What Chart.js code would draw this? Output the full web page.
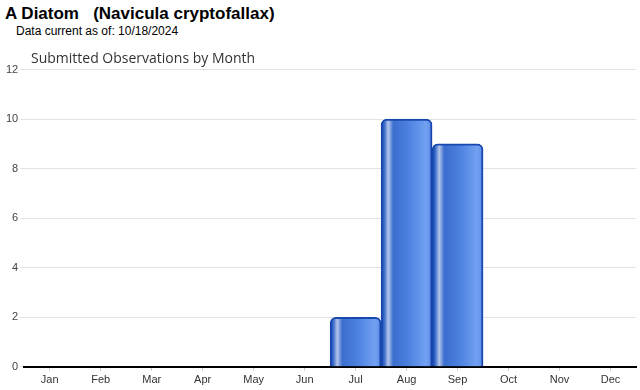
<!DOCTYPE html>
<html>
<head>
<meta charset="utf-8">
<script src="https://cdn.jsdelivr.net/npm/chart.js@4"></script>
<style>
    body { margin: 0; background: #fff; font-family: Arial, "Liberation Sans", sans-serif; }
    #page { position: relative; width: 640px; height: 390px; overflow: hidden; }
    #title { position: absolute; left: 5px; top: 4px; font-size: 17px; font-weight: bold; color: #000; white-space: pre; }
    #sub { position: absolute; left: 16px; top: 24px; font-size: 12px; color: #000; }
    #chartTitle { position: absolute; left: 31px; top: 48px; font-size: 14px; color: #333; font-family: "Open Sans", Arial, sans-serif; }
    #chartBox { position: absolute; left: 0; top: 61px; width: 640px; height: 329px; }
</style>
</head>
<body>
<div id="page">
    <div id="title">A Diatom   (Navicula cryptofallax)</div>
    <div id="sub">Data current as of: 10/18/2024</div>
    <div id="chartBox"><canvas id="obsChart"></canvas></div>
    <div id="chartTitle">Submitted Observations by Month</div>
</div>
<script>
const months = ["Jan", "Feb", "Mar", "Apr", "May", "Jun", "Jul", "Aug", "Sep", "Oct", "Nov", "Dec"];
const observations = [0, 0, 0, 0, 0, 0, 2, 10, 9, 0, 0, 0];
const yTicks = [0, 2, 4, 6, 8, 10, 12];

// horizontal shaded fill, like the old 3d-ish bars
function barFill(ctx) {
    const chart = ctx.chart;
    const xs = chart.scales.x;
    if (!xs || ctx.dataIndex === undefined) return "#3a6fd4";
    const c = xs.getPixelForValue(ctx.dataIndex);
    const half = xs.width / months.length / 2;
    if (!isFinite(c) || !isFinite(half) || half <= 0) return "#3a6fd4";
    const g = chart.ctx.createLinearGradient(c - half, 0, c + half, 0);
    g.addColorStop(0, "#1d4fb8");
    g.addColorStop(0.06, "#3566c8");
    g.addColorStop(0.14, "#b3c6ea");
    g.addColorStop(0.24, "#3b6dcf");
    g.addColorStop(0.55, "#4d82e0");
    g.addColorStop(0.88, "#72a1f2");
    g.addColorStop(1, "#5b8ae6");
    return g;
}

new Chart(document.getElementById("obsChart"), {
    type: "bar",
    data: {
        labels: months,
        datasets: [{
            data: observations,
            backgroundColor: barFill,
            borderColor: "#1848ad",
            borderWidth: 2,
            borderRadius: { topLeft: 6, topRight: 6 },
            borderSkipped: "bottom",
            barPercentage: 1,
            categoryPercentage: 1
        }]
    },
    options: {
        responsive: true,
        maintainAspectRatio: false,
        animation: false,
        layout: { padding: { left: 4, right: 4, top: 7, bottom: 0 } },
        plugins: {
            legend: { display: false },
            tooltip: { enabled: false },
            title: { display: false }
        },
        scales: {
            x: {
                grid: { display: true, offset: false, drawOnChartArea: false, drawTicks: true, tickLength: 4, color: "#ccc" },
                border: { display: true, color: "#000", width: 2 },
                ticks: { color: "#333", font: { family: "Arial", size: 11 }, padding: 3, maxRotation: 0 }
            },
            y: {
                min: 0,
                max: 12,
                afterBuildTicks: axis => { axis.ticks = yTicks.map(v => ({ value: v })); },
                grid: { color: "#e2e2e2", tickLength: 4 },
                border: { display: false },
                ticks: { color: "#444", font: { family: "Arial", size: 11 }, padding: 2 }
            }
        }
    }
});
</script>
</body>
</html>
